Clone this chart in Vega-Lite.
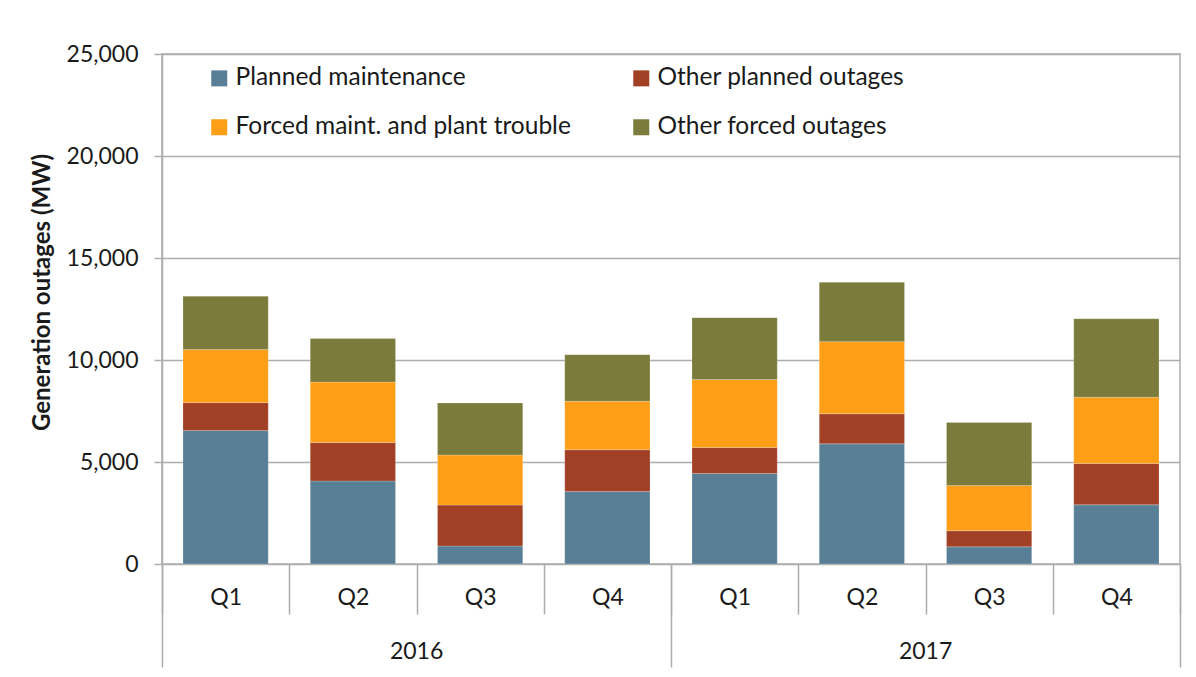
{
  "$schema": "https://vega.github.io/schema/vega-lite/v6.json",
  "width": 1018,
  "height": 510,
  "autosize": {"type": "none"},
  "padding": {"left": 162, "top": 54, "right": 16, "bottom": 113},
  "background": "white",
  "config": {
    "font": "Lato",
    "view": {"stroke": "#ADADAD", "strokeWidth": 1.5},
    "axis": {"labelFont": "Lato", "titleFont": "Lato", "labelColor": "#1a1a1a", "titleColor": "#1a1a1a"}
  },
  "data": {
    "values": [
      {"period": "2016 Q1", "series": "Planned maintenance", "value": 6540},
      {"period": "2016 Q1", "series": "Other planned outages", "value": 1370},
      {"period": "2016 Q1", "series": "Forced maint. and plant trouble", "value": 2610},
      {"period": "2016 Q1", "series": "Other forced outages", "value": 2610},
      {"period": "2016 Q2", "series": "Planned maintenance", "value": 4070},
      {"period": "2016 Q2", "series": "Other planned outages", "value": 1880},
      {"period": "2016 Q2", "series": "Forced maint. and plant trouble", "value": 2970},
      {"period": "2016 Q2", "series": "Other forced outages", "value": 2130},
      {"period": "2016 Q3", "series": "Planned maintenance", "value": 880},
      {"period": "2016 Q3", "series": "Other planned outages", "value": 2010},
      {"period": "2016 Q3", "series": "Forced maint. and plant trouble", "value": 2450},
      {"period": "2016 Q3", "series": "Other forced outages", "value": 2550},
      {"period": "2016 Q4", "series": "Planned maintenance", "value": 3560},
      {"period": "2016 Q4", "series": "Other planned outages", "value": 2040},
      {"period": "2016 Q4", "series": "Forced maint. and plant trouble", "value": 2380},
      {"period": "2016 Q4", "series": "Other forced outages", "value": 2280},
      {"period": "2017 Q1", "series": "Planned maintenance", "value": 4440},
      {"period": "2017 Q1", "series": "Other planned outages", "value": 1270},
      {"period": "2017 Q1", "series": "Forced maint. and plant trouble", "value": 3330},
      {"period": "2017 Q1", "series": "Other forced outages", "value": 3030},
      {"period": "2017 Q2", "series": "Planned maintenance", "value": 5890},
      {"period": "2017 Q2", "series": "Other planned outages", "value": 1470},
      {"period": "2017 Q2", "series": "Forced maint. and plant trouble", "value": 3540},
      {"period": "2017 Q2", "series": "Other forced outages", "value": 2910},
      {"period": "2017 Q3", "series": "Planned maintenance", "value": 840},
      {"period": "2017 Q3", "series": "Other planned outages", "value": 790},
      {"period": "2017 Q3", "series": "Forced maint. and plant trouble", "value": 2220},
      {"period": "2017 Q3", "series": "Other forced outages", "value": 3090},
      {"period": "2017 Q4", "series": "Planned maintenance", "value": 2900},
      {"period": "2017 Q4", "series": "Other planned outages", "value": 2030},
      {"period": "2017 Q4", "series": "Forced maint. and plant trouble", "value": 3250},
      {"period": "2017 Q4", "series": "Other forced outages", "value": 3840}
    ]
  },
  "transform": [
    {"calculate": "indexof(['Planned maintenance', 'Other planned outages', 'Forced maint. and plant trouble', 'Other forced outages'], datum.series)", "as": "stackOrder"}
  ],
  "layer": [
    {
      "mark": {"type": "bar", "width": {"band": 0.67}, "stroke": "white", "strokeWidth": 0.5, "strokeOpacity": 0.4},
      "encoding": {
        "x": {
          "field": "period", "type": "nominal", "sort": null,
          "scale": {"paddingInner": 0, "paddingOuter": 0},
          "axis": {
            "orient": "bottom", "title": null, "domain": false, "grid": false,
            "tickBand": "extent", "tickSize": 50, "tickColor": "#ADADAD", "tickWidth": 1.5,
            "labelExpr": "split(datum.label, ' ')[1]", "labelAngle": 0,
            "labelFontSize": 23, "labelPadding": -28, "labelBaseline": "top"
          }
        },
        "y": {
          "field": "value", "type": "quantitative", "stack": "zero",
          "scale": {"domain": [0, 25000], "nice": false},
          "axis": {
            "title": "Generation outages (MW)", "titleFontSize": 24, "titleFontWeight": "bold", "titlePadding": 12, "titleY": 238,
            "values": [0, 5000, 10000, 15000, 20000, 25000], "format": ",.0f",
            "labelFontSize": 23, "labelPadding": 16,
            "domainColor": "#ADADAD", "domainWidth": 1.5, "tickColor": "#ADADAD", "tickWidth": 1.5, "tickSize": 8,
            "gridColor": "#ADADAD", "gridWidth": 1.5
          }
        },
        "order": {"field": "stackOrder", "type": "quantitative", "sort": "ascending"},
        "color": {
          "field": "series", "type": "nominal",
          "scale": {
            "domain": ["Planned maintenance", "Other planned outages", "Forced maint. and plant trouble", "Other forced outages"],
            "range": ["#587F96", "#A24026", "#FF9E17", "#7B7B3B"]
          },
          "legend": {
            "title": null, "orient": "none", "legendX": 45, "legendY": 12, "direction": "horizontal", "columns": 2,
            "symbolType": "square", "symbolSize": 256, "symbolStrokeWidth": 0, "symbolOpacity": 1,
            "labelFontSize": 24.5, "labelFont": "Lato", "labelColor": "#1a1a1a", "labelOffset": 4,
            "columnPadding": 58, "rowPadding": 24, "labelLimit": 500,
            "values": ["Planned maintenance", "Other planned outages", "Forced maint. and plant trouble", "Other forced outages"]
          }
        }
      }
    },
    {
      "mark": {"type": "bar", "opacity": 0, "width": {"band": 0.67}},
      "encoding": {
        "x": {
          "field": "period", "type": "nominal", "sort": null,
          "axis": {
            "orient": "bottom", "title": null, "domain": false, "grid": false,
            "values": ["2016 Q1", "2017 Q1"],
            "bandPosition": 0, "tickSize": 103, "tickColor": "#ADADAD", "tickWidth": 1.5,
            "labelExpr": "split(datum.label, ' ')[0]", "labelAngle": 0, "labelOffset": 191,
            "labelFontSize": 23, "labelPadding": -27, "labelBaseline": "top"
          }
        },
        "y": {"field": "value", "type": "quantitative", "stack": "zero"}
      }
    },
    {
      "mark": {"type": "bar", "opacity": 0, "width": {"band": 0.67}},
      "encoding": {
        "x": {
          "field": "period", "type": "nominal", "sort": null,
          "axis": {
            "orient": "bottom", "title": null, "domain": false, "grid": false, "labels": false,
            "values": ["2017 Q4"],
            "bandPosition": 1, "tickSize": 103, "tickColor": "#ADADAD", "tickWidth": 1.5
          }
        },
        "y": {"field": "value", "type": "quantitative", "stack": "zero"}
      }
    }
  ],
  "resolve": {"axis": {"x": "independent"}}
}
